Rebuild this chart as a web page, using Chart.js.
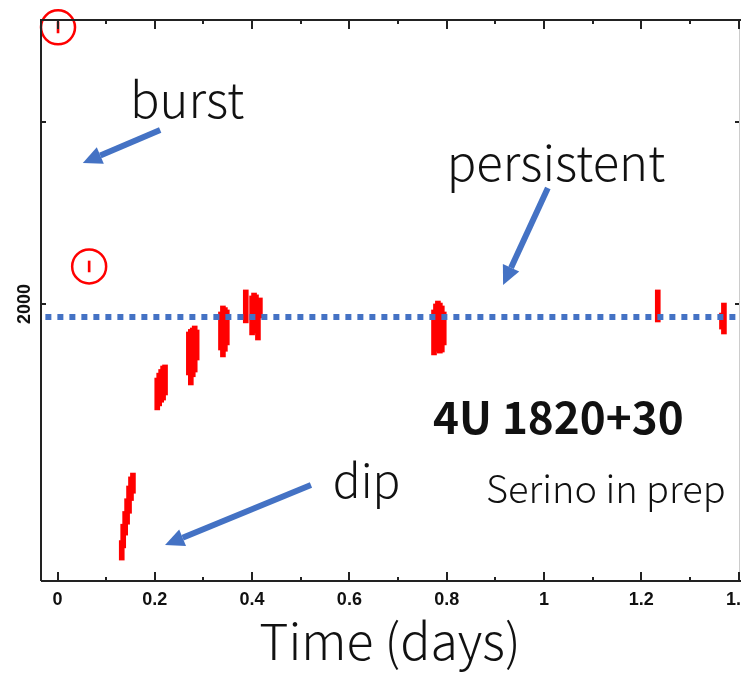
<!DOCTYPE html>
<html>
<head>
<meta charset="utf-8">
<script src="https://cdn.jsdelivr.net/npm/chart.js@4.4.1/dist/chart.umd.min.js"></script>
<style>
  html, body { margin: 0; padding: 0; background: #fff; overflow: hidden; }
  #wrap { width: 741px; height: 674px; overflow: hidden; }
</style>
</head>
<body>
<div id="wrap"><canvas id="lc" width="760" height="674"></canvas></div>
<script>
// light curve segments of 4U 1820+30: time (days) and count-rate range
const segTime = [0.155, 0.151, 0.147, 0.143, 0.139, 0.135, 0.132,
                 0.205, 0.209, 0.213, 0.217, 0.221,
                 0.270, 0.274, 0.278, 0.282, 0.286,
                 0.336, 0.340, 0.344, 0.348,
                 0.387, 0.400, 0.404, 0.408, 0.412, 0.416,
                 0.774, 0.778, 0.782, 0.786, 0.790, 0.794,
                 1.234, 1.366, 1.370];
const segLow  = [960, 920, 850, 790, 730, 660, 593,
                 1418, 1440, 1460, 1472, 1500,
                 1610, 1555, 1600, 1626, 1692,
                 1747, 1709, 1740, 1775,
                 1896, 1830, 1857, 1840, 1802, 1923,
                 1720, 1740, 1747, 1730, 1736, 1775,
                 1901, 1862, 1835];
const segHigh = [1071, 1050, 1000, 930, 860, 790, 700,
                 1593, 1620, 1640, 1659, 1665,
                 1846, 1860, 1868, 1879, 1857,
                 1956, 1989, 1980, 1967,
                 2077, 2044, 2060, 2050, 2022, 2033,
                 1967, 2000, 2016, 2005, 1989, 1956,
                 2077, 1950, 2005];

// the two short burst segments (circled)
const burstTime = [0.001, 0.065];
const burstLow  = [3489, 2176];
const burstHigh = [3550, 2236];

// persistent level
const persistentRate = 1929;
const persistentSpan = [-0.025, 1.45];

// axes
const xMin = -0.034, xMax = 1.401;
const yMin = 478, yMax = 3560;
const xTickValues = [0, 0.2, 0.4, 0.6, 0.8, 1, 1.2, 1.4];
const xTickLabels = ['0', '0.2', '0.4', '0.6', '0.8', '1', '1.2', '1.4'];
const xMinorTicks = [0.1, 0.3, 0.5, 0.7, 0.9, 1.1, 1.3];
const yTickValues = [2000, 3000];
const yTickLabels = ['2000', ''];

// annotations (text anchored left/baseline, in data units)
const noteText = ['burst', 'persistent', 'dip'];
const noteTime = [0.149, 0.800, 0.566];
const noteRate = [3022, 2676, 934];
const noteSize = [49, 49, 46];
const labelText = ['4U 1820+30', 'Serino in prep'];
const labelTime = [0.772, 0.881];
const labelRate = [1286, 906];

// arrows: from (tail) -> to (tip)
const arrowFromT = [0.211, 1.008, 0.521];
const arrowFromR = [2956, 2637, 1005];
const arrowToT   = [0.052, 0.916, 0.221];
const arrowToR   = [2775, 2104, 676];

const BLUE = '#4472C4';
const RED = '#ff0000';
const TEXT_FONT = '"Noto Sans CJK JP", "Noto Sans", sans-serif';

const segData = segTime.map((t, i) => ({ x: t, y: [segLow[i], segHigh[i]] }));
const burstData = burstTime.map((t, i) => ({ x: t, y: [burstLow[i], burstHigh[i]] }));
const circleData = burstTime.map((t, i) => ({ x: t, y: (burstLow[i] + burstHigh[i]) / 2 }));

const decorations = {
  id: 'decorations',
  afterDatasetsDraw(chart) {
    const { ctx, chartArea: a, scales: { x, y } } = chart;
    ctx.save();

    // frame
    ctx.strokeStyle = '#222';
    ctx.lineWidth = 2;
    ctx.beginPath();
    ctx.moveTo(a.left, a.bottom);
    ctx.lineTo(a.left, a.top);
    ctx.lineTo(a.right + 2, a.top);
    ctx.moveTo(a.left, a.bottom);
    ctx.lineTo(a.right + 2, a.bottom);
    ctx.stroke();
    ctx.strokeStyle = '#ccc';
    ctx.lineWidth = 1;
    ctx.beginPath();
    ctx.moveTo(a.right + 0.5, a.top);
    ctx.lineTo(a.right + 0.5, a.bottom);
    ctx.stroke();

    // inward ticks
    ctx.strokeStyle = '#222';
    ctx.lineWidth = 2;
    ctx.beginPath();
    const tick = (vals, len) => vals.forEach(v => {
      const px = Math.round(x.getPixelForValue(v));
      ctx.moveTo(px, a.bottom); ctx.lineTo(px, a.bottom - len);
      ctx.moveTo(px, a.top); ctx.lineTo(px, a.top + len);
    });
    tick(xTickValues, 9);
    tick(xMinorTicks, 4);
    yTickValues.forEach(v => {
      const py = Math.round(y.getPixelForValue(v));
      ctx.moveTo(a.left, py); ctx.lineTo(a.left + 5, py);
      ctx.moveTo(a.right, py); ctx.lineTo(a.right - 4, py);
    });
    ctx.stroke();

    // rotated y tick labels
    ctx.fillStyle = '#111';
    ctx.font = 'bold 18px "Liberation Sans", Arial, sans-serif';
    ctx.textAlign = 'center';
    ctx.textBaseline = 'middle';
    yTickValues.forEach((v, i) => {
      if (!yTickLabels[i]) return;
      ctx.save();
      ctx.translate(25, y.getPixelForValue(v));
      ctx.rotate(-Math.PI / 2);
      ctx.fillText(yTickLabels[i], 0, 0);
      ctx.restore();
    });

    // arrows
    ctx.strokeStyle = BLUE;
    ctx.fillStyle = BLUE;
    ctx.lineWidth = 6;
    arrowFromT.forEach((t, i) => {
      const x0 = x.getPixelForValue(t), y0 = y.getPixelForValue(arrowFromR[i]);
      const x1 = x.getPixelForValue(arrowToT[i]), y1 = y.getPixelForValue(arrowToR[i]);
      const ang = Math.atan2(y1 - y0, x1 - x0);
      const headLen = 19, headW = 9;
      const bx = x1 - headLen * Math.cos(ang), by = y1 - headLen * Math.sin(ang);
      ctx.beginPath();
      ctx.moveTo(x0, y0);
      ctx.lineTo(bx, by);
      ctx.stroke();
      ctx.beginPath();
      ctx.moveTo(x1, y1);
      ctx.lineTo(bx + headW * Math.sin(ang), by - headW * Math.cos(ang));
      ctx.lineTo(bx - headW * Math.sin(ang), by + headW * Math.cos(ang));
      ctx.closePath();
      ctx.fill();
    });

    // annotation texts
    ctx.fillStyle = '#111';
    ctx.textAlign = 'left';
    ctx.textBaseline = 'alphabetic';
    noteText.forEach((s, i) => {
      ctx.font = '300 ' + noteSize[i] + 'px ' + TEXT_FONT;
      ctx.fillText(s, x.getPixelForValue(noteTime[i]), y.getPixelForValue(noteRate[i]));
    });
    ctx.font = 'bold 44px ' + TEXT_FONT;
    ctx.fillText(labelText[0], x.getPixelForValue(labelTime[0]), y.getPixelForValue(labelRate[0]));
    ctx.font = '300 38px ' + TEXT_FONT;
    ctx.fillText(labelText[1], x.getPixelForValue(labelTime[1]), y.getPixelForValue(labelRate[1]));

    ctx.restore();
  }
};

new Chart(document.getElementById('lc').getContext('2d'), {
  type: 'bar',
  data: {
    datasets: [
      {
        type: 'line',
        data: persistentSpan.map(t => ({ x: t, y: persistentRate })),
        borderColor: BLUE,
        borderWidth: 6,
        borderDash: [6, 6],
        borderCapStyle: 'butt',
        pointRadius: 0,
        order: 0
      },
      {
        type: 'bar',
        data: segData,
        backgroundColor: RED,
        barThickness: 5,
        grouped: false,
        order: 1
      },
      {
        type: 'bar',
        data: burstData,
        backgroundColor: RED,
        barThickness: 2,
        grouped: false,
        order: 1
      },
      {
        type: 'scatter',
        data: circleData,
        pointRadius: 17,
        borderColor: RED,
        borderWidth: 2.5,
        backgroundColor: 'rgba(0,0,0,0)',
        clip: false,
        order: 1
      }
    ]
  },
  options: {
    responsive: false,
    animation: false,
    layout: { padding: { top: 20, right: 21, left: 0, bottom: 0 } },
    plugins: { legend: { display: false }, tooltip: { enabled: false } },
    scales: {
      x: {
        type: 'linear',
        min: xMin,
        max: xMax,
        offset: false,
        grid: { display: false, drawTicks: false },
        border: { display: false },
        afterBuildTicks: s => { s.ticks = xTickValues.map(v => ({ value: v })); },
        afterFit: s => { s.height = 93; },
        ticks: {
          padding: 8,
          maxRotation: 0,
          color: '#111',
          font: { family: '"Liberation Sans", Arial, sans-serif', size: 18, weight: 'bold' },
          callback: (v, i) => xTickLabels[i]
        },
        title: {
          display: true,
          text: 'Time (days)',
          color: '#111',
          font: { family: TEXT_FONT, size: 50, weight: 300 },
          padding: { top: 0, bottom: 3 }
        }
      },
      y: {
        type: 'linear',
        min: yMin,
        max: yMax,
        grid: { display: false, drawTicks: false },
        border: { display: false },
        ticks: { display: false },
        afterBuildTicks: s => { s.ticks = yTickValues.map(v => ({ value: v })); },
        afterFit: s => { s.width = 41; }
      }
    }
  },
  plugins: [decorations]
});
</script>
</body>
</html>
